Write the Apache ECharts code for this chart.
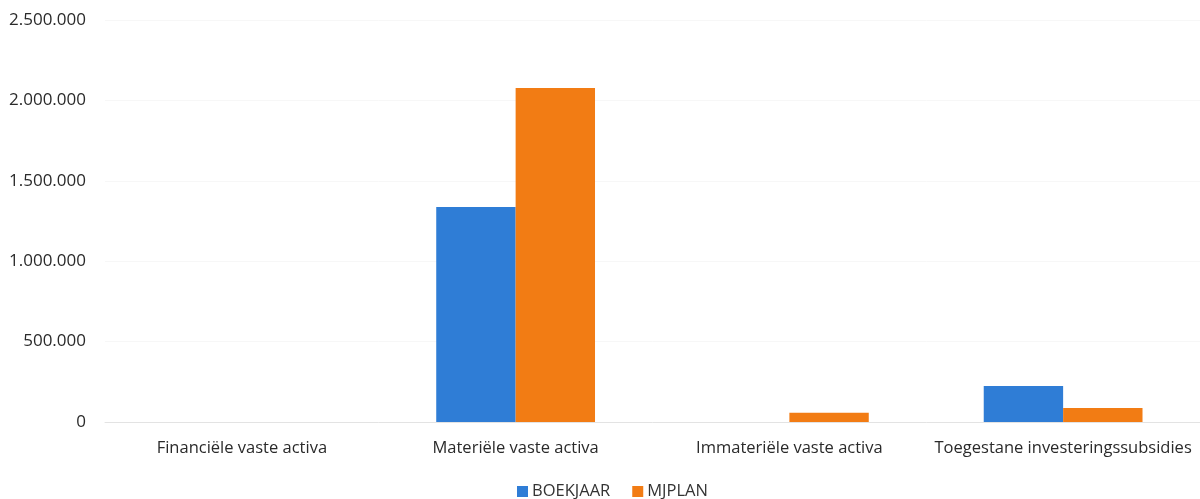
<!DOCTYPE html>
<html>
<head>
<meta charset="utf-8">
<script src="https://cdn.jsdelivr.net/npm/echarts@6/dist/echarts.min.js"></script>
<style>
html,body{margin:0;padding:0;background:#fff;}
#c{width:1200px;height:499px;}
</style>
</head>
<body>
<div id="c"></div>
<script>
var categories = ["Financiële vaste activa", "Materiële vaste activa", "Immateriële vaste activa", "Toegestane investeringssubsidies"];
var boekjaar = [0, 1337000, 0, 224000];
var mjplan = [0, 2077000, 58000, 87000];
var seriesNames = ["BOEKJAAR", "MJPLAN"];
var yTicks = {min: 0, max: 2500000, interval: 500000};

function fmt(v){
  return String(v).replace(/\B(?=(\d{3})+(?!\d))/g, ".");
}

var chart = echarts.init(document.getElementById('c'));
chart.setOption({
  animation: false,
  textStyle: {fontFamily: "Open Sans"},
  grid: {left: 105, right: 0, top: 20, bottom: 77, containLabel: false},
  legend: {
    data: seriesNames,
    bottom: -6,
    left: 512,
    itemWidth: 11,
    itemHeight: 11,
    itemGap: 22,
    icon: 'rect',
    textStyle: {fontSize: 16.5, color: '#333', fontFamily: "Open Sans", padding: [0, 0, 0, -1]}
  },
  xAxis: {
    type: 'category',
    data: categories,
    axisLine: {lineStyle: {color: '#e3e3e3', width: 1}},
    axisTick: {show: false},
    axisLabel: {fontSize: 16.5, color: '#2a2a2a', margin: 18, interval: 0, fontFamily: "Open Sans"}
  },
  yAxis: {
    type: 'value',
    min: yTicks.min,
    max: yTicks.max,
    interval: yTicks.interval,
    axisLine: {show: false},
    axisTick: {show: false},
    splitLine: {lineStyle: {color: '#f7f7f7'}},
    axisLabel: {fontSize: 17, color: '#2a2a2a', margin: 19, formatter: fmt, fontFamily: "Open Sans"}
  },
  series: [
    {name: seriesNames[0], type: 'bar', data: boekjaar, barGap: '0%', barCategoryGap: '42%', itemStyle: {color: '#2f7dd6'}},
    {name: seriesNames[1], type: 'bar', data: mjplan, itemStyle: {color: '#f27c14'}}
  ]
});
</script>
</body>
</html>
